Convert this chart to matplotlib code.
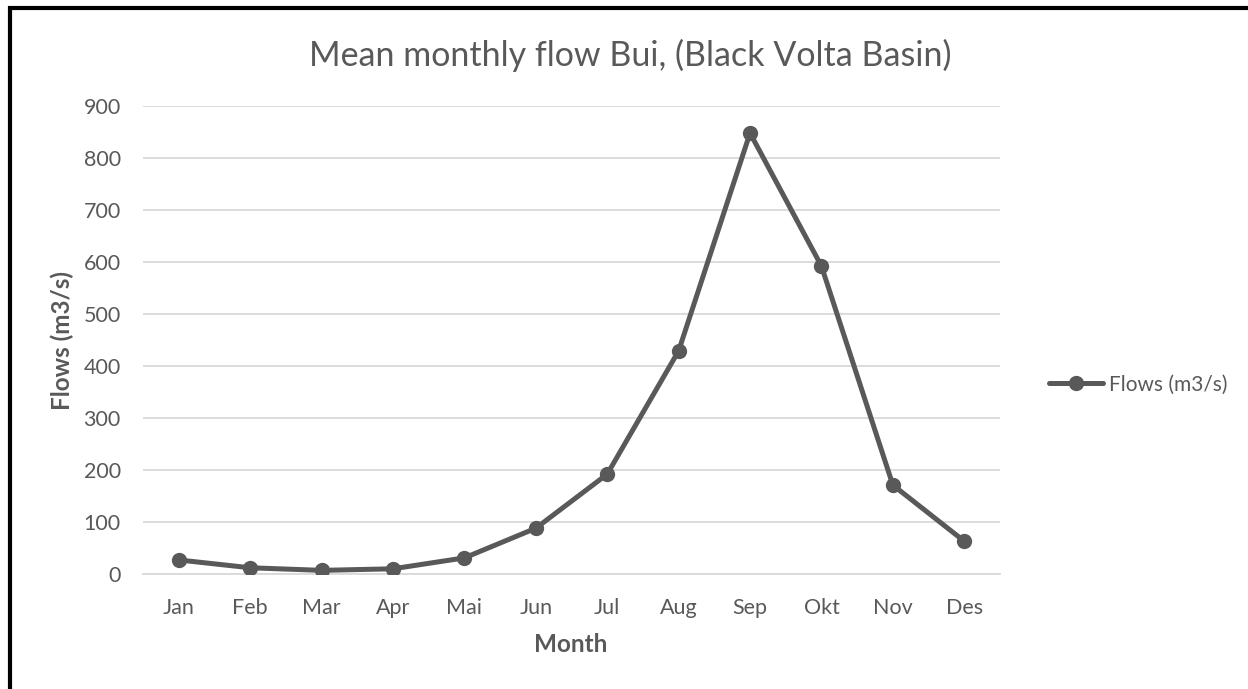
import matplotlib
matplotlib.use("Agg")
import matplotlib.pyplot as plt
from matplotlib.patches import Rectangle

months = ["Jan", "Feb", "Mar", "Apr", "Mai", "Jun", "Jul", "Aug", "Sep", "Okt", "Nov", "Des"]
flows = [27, 12, 7, 10, 31, 88, 192, 429, 848, 592, 171, 63]
yticks = [0, 100, 200, 300, 400, 500, 600, 700, 800, 900]

plt.rcParams['font.family'] = ['Lato', 'DejaVu Sans']
grey = '#595959'

fig = plt.figure(figsize=(12.48, 6.89), dpi=100)
ax = fig.add_axes([143/1248, 1-574/689, (1000-143)/1248, (574-106)/689])

x = list(range(len(months)))
ax.plot(x, flows, color=grey, linewidth=3.6, marker='o', markersize=10,
        label='Flows (m3/s)', solid_capstyle='round', zorder=3)

ax.set_xlim(-0.5, len(months) - 0.5)
ax.set_ylim(0, 900)
ax.set_yticks(yticks)
ax.set_xticks(x)
ax.set_xticklabels(months)
ax.grid(axis='y', color='#d9d9d9', linewidth=1.3)
ax.set_axisbelow(True)
for s in ['top', 'right', 'left']:
    ax.spines[s].set_visible(False)
ax.spines['bottom'].set_color('#d9d9d9')
ax.spines['bottom'].set_linewidth(1.3)
ax.tick_params(axis='x', length=0, labelsize=15.5, colors=grey, pad=17)
ax.tick_params(axis='y', length=0, labelsize=15.5, colors=grey, pad=16)

fig.text(571/1248, 1-645/689, 'Month', fontsize=17.5, fontweight='bold',
         color=grey, ha='center', va='center')
fig.text(62/1248, 1-340/689, 'Flows (m3/s)', fontsize=17.5, fontweight='bold',
         color=grey, ha='center', va='center', rotation=90)
fig.text(630/1248, 1-55/689, 'Mean monthly flow Bui, (Black Volta Basin)',
         fontsize=24.5, color=grey, ha='center', va='center')

leg = ax.legend(loc='center left', bbox_to_anchor=(1.035, 0.405), frameon=False,
                fontsize=15, handlelength=2.6, handletextpad=0.3, labelcolor=grey)

fig.patches.append(Rectangle((10/1248, -0.1), 1.2, 1-8/689 + 0.1,
                             transform=fig.transFigure, fill=False,
                             edgecolor='black', linewidth=3))

fig.savefig('out.png', dpi=100, facecolor='white')
